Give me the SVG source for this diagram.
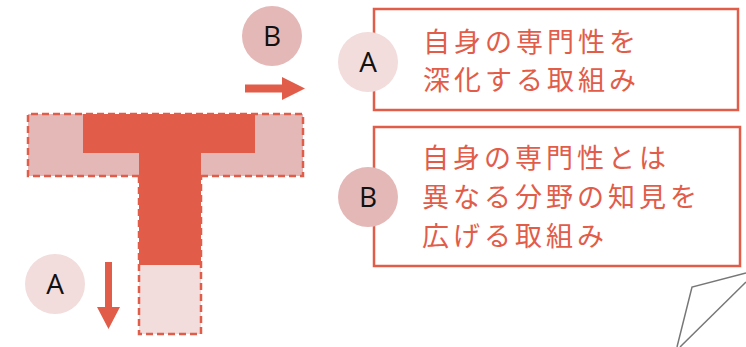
<svg xmlns="http://www.w3.org/2000/svg" width="746" height="347" viewBox="0 0 746 347">
<style>
.dash{stroke:#e25c4a;stroke-width:2.5;stroke-dasharray:7 4;}
.red{fill:#e25c4a;}
.lbl{font-family:"Open Sans","Noto Sans",sans-serif;font-size:28px;fill:#111;text-anchor:middle;}
.jp{font-family:"Noto Sans CJK JP",sans-serif;font-size:27px;fill:#e25c4a;letter-spacing:4px;}
.box{fill:#fff;stroke:#e25c4a;stroke-width:2.5;}
</style>
<g id="t-shape">
<rect x="28" y="114" width="275" height="62" fill="#e5b8b8"/>
<rect x="139" y="265" width="62" height="69" fill="#f2dcdc"/>
<rect x="83" y="114" width="172" height="39" class="red"/>
<rect x="139" y="114" width="62" height="151" class="red"/>
<path d="M139 176 H28 V114 H303 V176 H201" fill="none" class="dash"/>
<path d="M139 176 V334 H201 V176" fill="none" class="dash"/>
</g>
<g id="arrows">
<path d="M105 262 H112 V307 H120 L108.5 329 L97 307 H105 Z" class="red"/>
<path d="M245 84.5 H282 V77 L305 88.5 L282 100 V92.5 H245 Z" class="red"/>
</g>
<g id="circle-a-bottom">
<circle cx="55" cy="284" r="30" fill="#f2dcdc"/>
<text x="55" y="294" class="lbl">A</text>
</g>
<g id="circle-b-top">
<circle cx="272" cy="36" r="30" fill="#e5b8b8"/>
<text x="272" y="46" class="lbl">B</text>
</g>
<g id="box-a">
<rect x="374" y="9" width="364" height="101" class="box"/>
<circle cx="368" cy="62" r="30" fill="#f2dcdc"/>
<text x="368" y="72" class="lbl">A</text>
<text class="jp"><tspan x="423" y="52">自身の専門性を</tspan><tspan x="423" y="90">深化する取組み</tspan></text>
</g>
<g id="box-b">
<rect x="374" y="127" width="366" height="139" class="box"/>
<circle cx="368" cy="197" r="30" fill="#e5b8b8"/>
<text x="368" y="207" class="lbl">B</text>
<text class="jp"><tspan x="422" y="168">自身の専門性とは</tspan><tspan x="422" y="207">異なる分野の知見を</tspan><tspan x="422" y="246">広げる取組み</tspan></text>
</g>
<g id="gray-shape" fill="none" stroke="#777" stroke-width="1.5">
<path d="M746 273 L692 287 L677 347"/>
<path d="M746 282 L680 347"/>
</g>
</svg>
